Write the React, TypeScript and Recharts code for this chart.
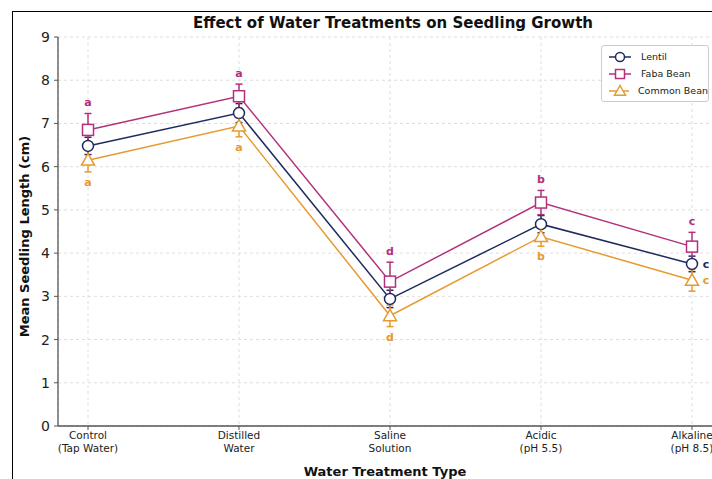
import {
  CartesianGrid,
  ErrorBar,
  LabelList,
  Line,
  LineChart,
  XAxis,
  YAxis,
} from 'recharts';

const categories = [
  'Control\n(Tap Water)',
  'Distilled\nWater',
  'Saline\nSolution',
  'Acidic\n(pH 5.5)',
  'Alkaline\n(pH 8.5)',
];
const lentil = [6.48, 7.24, 2.94, 4.67, 3.75];
const lentilErr = [0.2, 0.22, 0.2, 0.2, 0.18];
const faba = [6.85, 7.63, 3.34, 5.17, 4.15];
const fabaErr = [0.38, 0.28, 0.45, 0.28, 0.33];
const common = [6.15, 6.94, 2.55, 4.38, 3.37];
const commonErr = [0.27, 0.25, 0.25, 0.22, 0.25];
const lentilLetters = ['', '', '', '', 'c'];
const fabaLetters = ['a', 'a', 'd', 'b', 'c'];
const commonLetters = ['a', 'a', 'd', 'b', 'c'];
const yTicks = [0, 1, 2, 3, 4, 5, 6, 7, 8, 9];

const NAVY = '#1f2b5f';
const MAGENTA = '#b3307b';
const ORANGE = '#e69a2f';
const FONT = '"DejaVu Sans", sans-serif';

const data = categories.map((name, i) => ({
  name,
  lentil: lentil[i],
  lentilErr: lentilErr[i],
  faba: faba[i],
  fabaErr: fabaErr[i],
  common: common[i],
  commonErr: commonErr[i],
  lentilLetter: lentilLetters[i],
  fabaLetter: fabaLetters[i],
  commonLetter: commonLetters[i],
  // where the significance letters sit
  lentilLabelAt: lentil[i],
  fabaLabelAt: faba[i] + fabaErr[i] + 0.26,
  commonLabelAt: i === 4 ? common[i] : common[i] - commonErr[i] - 0.24,
}));

const series = [
  { key: 'lentil', name: 'Lentil', color: NAVY, shape: 'circle' },
  { key: 'faba', name: 'Faba Bean', color: MAGENTA, shape: 'square' },
  { key: 'common', name: 'Common Bean', color: ORANGE, shape: 'triangle' },
];

const Marker = ({ cx, cy, shape, color, size = 5.5 }: any) => {
  if (cx == null || cy == null) return null;
  if (shape === 'square')
    return (
      <rect
        x={cx - size}
        y={cy - size}
        width={size * 2}
        height={size * 2}
        fill="#fff"
        stroke={color}
        strokeWidth={1.5}
      />
    );
  if (shape === 'triangle') {
    const s = size + 1;
    return (
      <path
        d={`M${cx},${cy - s} L${cx + s},${cy + s * 0.75} L${cx - s},${cy + s * 0.75} Z`}
        fill="#fff"
        stroke={color}
        strokeWidth={1.5}
      />
    );
  }
  return <circle cx={cx} cy={cy} r={size} fill="#fff" stroke={color} strokeWidth={1.5} />;
};

const CategoryTick = ({ x, y, payload }: any) => {
  const lines = String(payload.value).split('\n');
  return (
    <text x={x} y={y} textAnchor="middle" fontSize={10.5} fill="#222" fontFamily={FONT}>
      {lines.map((l, i) => (
        <tspan key={i} x={x} dy={i === 0 ? '0.71em' : 13}>
          {l}
        </tspan>
      ))}
    </text>
  );
};

const letterContent = (color: string, sideIndex: number | null) => (props: any) => {
  const { x, y, value, index } = props;
  if (!value) return null;
  const side = sideIndex === index || sideIndex === -1;
  return (
    <text
      x={x + (side ? 14 : 0)}
      y={y}
      dy="0.35em"
      textAnchor="middle"
      fontSize={11}
      fontWeight="bold"
      fill={color}
      fontFamily={FONT}
    >
      {value}
    </text>
  );
};

const LegendBox = () => (
  <div
    style={{
      position: 'absolute',
      left: 593,
      top: 37,
      width: 100,
      border: '1px solid #ccc',
      borderRadius: 3,
      background: '#fff',
      padding: '2px 0 2px 6px',
      fontFamily: FONT,
      fontSize: 9.5,
      color: '#222',
      whiteSpace: 'nowrap',
    }}
  >
    {series.map((s) => (
      <div key={s.key} style={{ display: 'flex', alignItems: 'center', height: 17 }}>
        <svg width={24} height={14} style={{ marginRight: 9 }}>
          <line x1={1} y1={7} x2={23} y2={7} stroke={s.color} strokeWidth={1.5} />
          <Marker cx={12} cy={7} shape={s.shape} color={s.color} size={4.5} />
        </svg>
        <span>{s.name}</span>
      </div>
    ))}
  </div>
);

const YLabel = ({ viewBox }: any) => {
  const cx = 16;
  const cy = viewBox.y + viewBox.height / 2 + 5;
  return (
    <text
      x={cx}
      y={cy}
      transform={`rotate(-90, ${cx}, ${cy})`}
      textAnchor="middle"
      dominantBaseline="central"
      fontSize={13}
      fontWeight="bold"
      fill="#111"
      fontFamily={FONT}
    >
      Mean Seedling Length (cm)
    </text>
  );
};

export default function App() {
  return (
    <div
      style={{
        position: 'relative',
        width: 712,
        height: 479,
        overflow: 'hidden',
        background: '#fff',
      }}
    >
      <style>{'body { margin: 0; }'}</style>
      <div style={{ position: 'absolute', left: 8, top: 8, width: 740, height: 471 }}>
        <div
          style={{
            position: 'absolute',
            left: 4,
            top: 3,
            width: 900,
            height: 700,
            borderLeft: '1px solid #000',
            borderTop: '1px solid #000',
          }}
        />
        <div
          style={{
            position: 'absolute',
            top: 6,
            left: 0,
            width: 770,
            textAlign: 'center',
            fontFamily: FONT,
            fontWeight: 'bold',
            fontSize: 15,
            lineHeight: '18px',
            color: '#111',
          }}
        >
          Effect of Water Treatments on Seedling Growth
        </div>
        <LineChart
          width={740}
          height={471}
          data={data}
          margin={{ top: 29, right: 26, left: 0, bottom: 0 }}
          style={{ position: 'absolute', left: 0, top: 0 }}
        >
          <CartesianGrid stroke="#dedede" strokeDasharray="3 3" />
          <XAxis
            dataKey="name"
            height={53}
            padding={{ left: 30, right: 30 }}
            tick={<CategoryTick />}
            tickSize={4}
            tickMargin={2}
            interval={0}
            axisLine={{ stroke: '#555', strokeWidth: 1.3 }}
            tickLine={{ stroke: '#555' }}
            label={{
              value: 'Water Treatment Type',
              position: 'insideBottom',
              offset: 3,
              dx: -5,
              style: { fontFamily: FONT, fontWeight: 'bold', fontSize: 13, fill: '#111' },
            }}
          />
          <YAxis
            width={50}
            domain={[0, 9]}
            ticks={yTicks}
            interval={0}
            tickSize={4}
            tickMargin={4}
            tick={{ fontSize: 14, fill: '#222', fontFamily: FONT }}
            axisLine={{ stroke: '#555', strokeWidth: 1.3 }}
            tickLine={{ stroke: '#555' }}
            label={<YLabel />}
          />
          {series.map((s) => (
            <Line
              key={s.key}
              dataKey={s.key}
              name={s.name}
              stroke={s.color}
              strokeWidth={1.5}
              isAnimationActive={false}
              dot={(p: any) => <Marker key={`${s.key}-${p.index}`} {...p} shape={s.shape} color={s.color} />}
              activeDot={false}
            >
              <ErrorBar dataKey={`${s.key}Err`} direction="y" width={3.5} stroke={s.color} strokeWidth={1.5} />
            </Line>
          ))}
          {series.map((s) => (
            <Line
              key={`${s.key}-labels`}
              dataKey={`${s.key}LabelAt`}
              stroke="none"
              dot={false}
              activeDot={false}
              legendType="none"
              isAnimationActive={false}
            >
              <LabelList
                dataKey={`${s.key}Letter`}
                content={letterContent(s.color, s.key === 'lentil' ? -1 : s.key === 'common' ? 4 : null)}
              />
            </Line>
          ))}
        </LineChart>
        <LegendBox />
      </div>
    </div>
  );
}
